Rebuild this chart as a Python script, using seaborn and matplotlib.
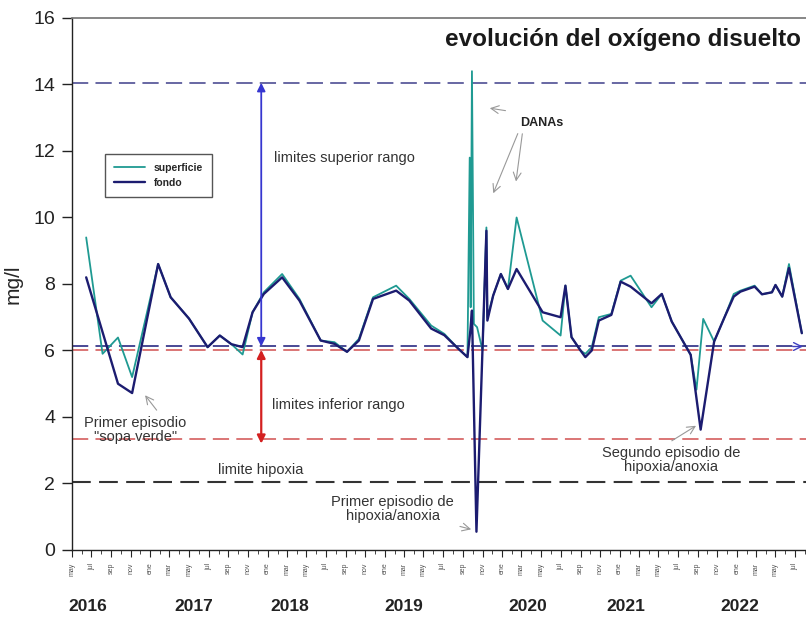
import pandas as pd
import matplotlib
matplotlib.use("Agg")
import matplotlib.pyplot as plt
import matplotlib.dates as mdates
from matplotlib.ticker import FuncFormatter, MultipleLocator
import seaborn as sns

# valores (mg/l)
fondo_fechas = ["2016-06-15", "2016-09-22", "2016-11-05", "2017-01-25", "2017-03-05",
                "2017-05-01", "2017-06-28", "2017-08-05", "2017-09-10", "2017-10-15",
                "2017-11-15", "2017-12-20", "2018-02-15", "2018-04-10", "2018-06-15",
                "2018-07-28", "2018-09-05", "2018-10-12", "2018-11-25", "2019-02-05",
                "2019-03-18", "2019-05-25", "2019-07-05", "2019-08-18", "2019-09-15",
                "2019-09-24", "2019-09-29", "2019-10-13", "2019-11-13", "2019-11-16",
                "2019-12-04", "2019-12-28", "2020-01-19", "2020-02-15", "2020-05-06",
                "2020-07-01", "2020-07-16", "2020-08-04", "2020-09-01", "2020-09-16",
                "2020-10-06", "2020-10-28", "2020-12-06", "2021-01-04", "2021-02-04",
                "2021-04-10", "2021-05-12", "2021-06-12", "2021-08-10", "2021-09-10",
                "2021-10-22", "2021-11-22", "2021-12-22", "2022-01-12", "2022-02-25",
                "2022-03-20", "2022-04-20", "2022-05-01", "2022-05-22", "2022-06-12",
                "2022-07-22"]
fondo_mgl = [8.2, 5.0, 4.72, 8.6, 7.6,
             6.96, 6.1, 6.45, 6.19, 6.1,
             7.15, 7.7, 8.2, 7.5, 6.3,
             6.2, 5.96, 6.3, 7.55, 7.8,
             7.5, 6.66, 6.46, 6.05, 5.8,
             6.6, 7.2, 0.55, 9.6, 6.9,
             7.65, 8.3, 7.85, 8.45, 7.15,
             7.0, 7.95, 6.4, 6.0, 5.8,
             6.0, 6.9, 7.07, 8.07, 7.92,
             7.42, 7.7, 6.87, 5.87, 3.62,
             6.27, 6.97, 7.62, 7.77, 7.92,
             7.69, 7.75, 7.97, 7.62, 8.48,
             6.52]

sup_fechas = ["2016-06-15", "2016-08-05", "2016-09-22", "2016-11-05", "2017-01-25",
              "2017-03-05", "2017-05-01", "2017-06-28", "2017-08-05", "2017-09-10",
              "2017-10-15", "2017-11-15", "2017-12-20", "2018-02-15", "2018-04-10",
              "2018-06-15", "2018-07-28", "2018-09-05", "2018-10-12", "2018-11-25",
              "2019-02-05", "2019-03-18", "2019-05-25", "2019-07-05", "2019-08-18",
              "2019-09-15", "2019-09-22", "2019-09-25", "2019-09-29", "2019-10-05",
              "2019-10-15", "2019-11-01", "2019-11-13", "2019-11-16", "2019-12-04",
              "2019-12-28", "2020-01-19", "2020-02-15", "2020-05-06", "2020-07-01",
              "2020-07-16", "2020-08-04", "2020-09-01", "2020-09-16", "2020-10-06",
              "2020-10-28", "2020-12-06", "2021-01-04", "2021-02-04", "2021-04-10",
              "2021-05-12", "2021-06-12", "2021-08-10", "2021-08-28", "2021-09-18",
              "2021-10-22", "2021-11-22", "2021-12-22", "2022-01-12", "2022-02-25",
              "2022-03-20", "2022-04-20", "2022-05-01", "2022-05-22", "2022-06-12",
              "2022-07-22"]
sup_mgl = [9.4, 5.9, 6.39, 5.2, 8.6,
           7.6, 6.96, 6.1, 6.45, 6.19,
           5.88, 7.15, 7.75, 8.3, 7.55,
           6.3, 6.25, 5.96, 6.35, 7.6,
           7.95, 7.55, 6.75, 6.5, 6.05,
           5.8, 11.8, 7.3, 14.4, 6.8,
           6.7, 6.0, 9.7, 7.0, 7.65,
           8.3, 7.85, 10.0, 6.9, 6.45,
           7.95, 6.4, 6.0, 5.9, 6.1,
           7.0, 7.1, 8.1, 8.25, 7.3,
           7.7, 6.87, 5.87, 4.82, 6.95,
           6.27, 6.97, 7.7, 7.8, 7.95,
           7.69, 7.75, 7.97, 7.62, 8.6,
           6.52]

meses = ["ene", "feb", "mar", "abr", "may", "jun", "jul", "ago", "sep", "oct", "nov", "dic"]
anios = ["2016", "2017", "2018", "2019", "2020", "2021", "2022"]
anio_fechas = ["2016-06-20", "2017-05-15", "2018-03-10", "2019-03-01",
               "2020-03-20", "2021-01-20", "2022-01-10"]

lim_superior = 14.05
lim_rango_azul = 6.12
lim_rango_rojo = 6.02
lim_inferior = 3.35
lim_hipoxia = 2.05

df = pd.concat([
    pd.DataFrame({"fecha": pd.to_datetime(sup_fechas), "mgl": sup_mgl, "serie": "superficie"}),
    pd.DataFrame({"fecha": pd.to_datetime(fondo_fechas), "mgl": fondo_mgl, "serie": "fondo"}),
])

sns.set_theme(style="white")
plt.rcParams["font.family"] = ["Liberation Sans", "DejaVu Sans"]

fig = plt.figure(figsize=(8.06, 6.24), dpi=100)
ax = fig.add_axes([0.089, 0.1186, 0.911, 0.8526])

colores = {"superficie": "#1f9a92", "fondo": "#1c1c70"}
sns.lineplot(data=df[df.serie == "superficie"], x="fecha", y="mgl", color=colores["superficie"],
             lw=1.3, estimator=None, label="superficie", ax=ax)
sns.lineplot(data=df[df.serie == "fondo"], x="fecha", y="mgl", color=colores["fondo"],
             lw=1.7, estimator=None, label="fondo", ax=ax)

# limites
guion = (0, (9, 4))
ax.axhline(lim_superior, color="#5c5c9c", lw=1.3, ls=guion, zorder=1)
ax.axhline(lim_rango_azul, color="#3a3a8c", lw=1.3, ls=guion, zorder=1)
ax.axhline(lim_rango_rojo, color="#d86a6a", lw=1.3, ls=guion, zorder=1)
ax.axhline(lim_inferior, color="#d86a6a", lw=1.3, ls=guion, zorder=1)
ax.axhline(lim_hipoxia, color="#333333", lw=1.5, ls=guion, zorder=1)

d = lambda s: mdates.date2num(pd.Timestamp(s))

# flechas de rango
x_flecha = d("2017-12-12")
ax.annotate("", xy=(x_flecha, lim_rango_azul), xytext=(x_flecha, lim_superior),
            arrowprops=dict(arrowstyle="<|-|>", color="#3636d0", lw=1.3,
                            mutation_scale=12, shrinkA=0, shrinkB=0))
ax.annotate("", xy=(x_flecha, lim_inferior - 0.15), xytext=(x_flecha, lim_rango_rojo),
            arrowprops=dict(arrowstyle="<|-|>", color="#d42020", lw=1.6,
                            mutation_scale=12, shrinkA=0, shrinkB=0))
ax.annotate("", xy=(d("2022-08-03"), lim_rango_azul), xytext=(d("2022-06-15"), lim_rango_azul),
            arrowprops=dict(arrowstyle="->", color="#4040c0", lw=1.0, mutation_scale=14))

txt = dict(fontsize=10.5, color="#333333")
ax.text(d("2018-01-22"), 11.8, "limites superior rango", va="center", **txt)
ax.text(d("2018-01-15"), 4.35, "limites inferior rango", va="center", **txt)
ax.text(d("2017-12-10"), 2.42, "limite hipoxia", ha="center", va="center", **txt)

gris = dict(arrowstyle="->", color="#999999", lw=0.8, mutation_scale=14)
ax.annotate("Primer episodio\n\"sopa verde\"", xy=(d("2016-12-10"), 4.72),
            xytext=(d("2016-11-15"), 3.62), ha="center", va="center",
            arrowprops=dict(gris, relpos=(0.75, 1.0)), linespacing=1.0, **txt)
ax.annotate("Primer episodio de\nhipoxia/anoxia", xy=(d("2019-10-05"), 0.6),
            xytext=(d("2019-01-25"), 1.23), ha="center", va="center",
            arrowprops=dict(gris, relpos=(0.9, 0.05)), linespacing=1.0, **txt)
ax.annotate("Segundo episodio de\nhipoxia/anoxia", xy=(d("2021-09-03"), 3.78),
            xytext=(d("2021-06-10"), 2.72), ha="center", va="center",
            arrowprops=dict(gris, relpos=(0.45, 1.0)), linespacing=1.0, **txt)

ax.text(d("2020-02-25"), 12.85, "DANAs", fontsize=9, fontweight="bold", color="#222222",
        va="center")
for x0, y0, x1, y1 in [("2020-01-20", 13.2, "2019-11-15", 13.3),
                       ("2020-02-22", 12.6, "2019-12-01", 10.65),
                       ("2020-03-05", 12.6, "2020-02-12", 11.0)]:
    ax.annotate("", xy=(d(x1), y1), xytext=(d(x0), y0), arrowprops=gris)

ax.text(d("2022-07-20"), 15.35, "evolución del oxígeno disuelto", ha="right", va="center",
        fontsize=17.5, fontweight="bold", color="#1a1a1a")

# ejes
ax.set_xlim(d("2016-05-01"), d("2022-08-04"))
ax.set_ylim(0, 16)
ax.yaxis.set_major_locator(MultipleLocator(2))
ax.set_ylabel("mg/l", fontsize=15, labelpad=8)
ax.set_xlabel("")
ax.tick_params(axis="y", labelsize=14, length=7, width=1, direction="out", left=True,
               colors="#222222", pad=5)
ax.xaxis.set_major_locator(mdates.MonthLocator(bymonth=[1, 3, 5, 7, 9, 11]))
ax.xaxis.set_minor_locator(mdates.MonthLocator())
ax.xaxis.set_major_formatter(FuncFormatter(lambda v, p: meses[mdates.num2date(v).month - 1]))
ax.tick_params(axis="x", which="major", labelsize=5, rotation=90, length=5, width=0.8,
               bottom=True, labelcolor="#555555", pad=4)
ax.tick_params(axis="x", which="minor", length=3, width=0.6, bottom=True)

for a, f in zip(anios, anio_fechas):
    ax.text(d(f), -0.107, a, transform=ax.get_xaxis_transform(), ha="center", va="center",
            fontsize=12.5, fontweight="bold", color="#222222")

for s in ["left", "bottom"]:
    ax.spines[s].set_color("#222222")
    ax.spines[s].set_linewidth(1.0)
ax.spines["top"].set_color("#777777")
ax.spines["right"].set_visible(False)

leg = ax.legend(loc="upper left", bbox_to_anchor=(0.038, 0.755), fancybox=False,
                prop={"size": 7.5, "weight": "bold"}, handlelength=3.0, borderpad=0.9,
                labelspacing=0.5, edgecolor="#555555", framealpha=1)
leg.get_frame().set_linewidth(1.0)

fig.savefig("out.png", dpi=100)
